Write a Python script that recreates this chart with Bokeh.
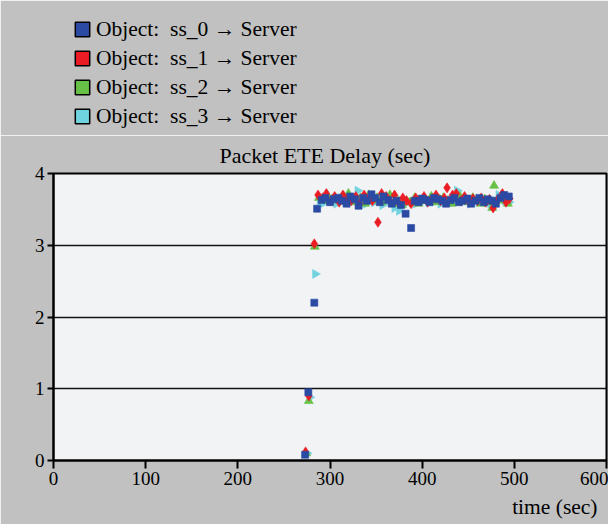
import numpy as np
from bokeh.plotting import figure
from bokeh.layouts import column
from bokeh.models import Legend, LegendItem, Title, FixedTicker, ColumnDataSource, Range1d
from bokeh.embed import file_html
from bokeh.resources import INLINE

series_names = ["Object:\u00a0 ss_0 \u2192 Server", "Object:\u00a0 ss_1 \u2192 Server",
                "Object:\u00a0 ss_2 \u2192 Server", "Object:\u00a0 ss_3 \u2192 Server"]
colors = ["#2b4aa3", "#ec1c24", "#66c146", "#6fd3e0"]

t0 = [273, 276.5, 283, 286, 291, 295, 300, 304, 309, 313, 318, 322, 327, 331, 336, 340, 345, 349, 354, 358,
      363, 367, 372, 377, 382, 388, 392, 396, 400, 404, 408, 413, 417, 422, 426, 431, 435, 440, 444, 449,
      453, 458, 462, 467, 471, 476, 480, 485, 489, 494]
v0 = [0.08, 0.95, 2.2, 3.51, 3.63, 3.66, 3.60, 3.64, 3.66, 3.62, 3.58, 3.68, 3.64, 3.55, 3.66, 3.62, 3.71, 3.66,
      3.60, 3.68, 3.63, 3.58, 3.62, 3.56, 3.44, 3.24, 3.62, 3.60, 3.65, 3.63, 3.60, 3.66, 3.64, 3.62, 3.58, 3.63,
      3.66, 3.60, 3.62, 3.65, 3.58, 3.62, 3.66, 3.60, 3.64, 3.62, 3.58, 3.66, 3.70, 3.68]

t1 = [273.5, 277, 283, 287, 292, 296, 301, 305, 310, 314, 319, 323, 328, 332, 337, 341, 346, 352, 356, 361,
      365, 370, 374, 379, 383, 388, 393, 397, 402, 406, 411, 415, 420, 424, 427, 433, 437, 442, 446, 451,
      455, 460, 464, 469, 473, 477, 482, 487, 491, 495]
v1 = [0.12, 0.9, 3.02, 3.70, 3.66, 3.72, 3.62, 3.68, 3.60, 3.70, 3.65, 3.62, 3.68, 3.58, 3.70, 3.64, 3.62, 3.32,
      3.72, 3.68, 3.62, 3.70, 3.60, 3.66, 3.62, 3.58, 3.66, 3.63, 3.68, 3.60, 3.65, 3.70, 3.62, 3.66, 3.80, 3.70,
      3.72, 3.62, 3.68, 3.60, 3.65, 3.62, 3.66, 3.60, 3.64, 3.52, 3.64, 3.72, 3.60, 3.65]

t2 = [274, 277, 283.5, 288, 293, 297, 302, 306, 311, 315, 320, 324, 329, 333, 338, 342, 347, 351, 356, 360,
      365, 369, 374, 378, 383, 387, 392, 396, 401, 405, 410, 414, 419, 423, 428, 432, 437, 441, 446, 450,
      455, 459, 464, 468, 473, 476, 478, 483, 488, 493]
v2 = [0.1, 0.83, 2.98, 3.66, 3.62, 3.70, 3.64, 3.66, 3.62, 3.68, 3.72, 3.60, 3.64, 3.66, 3.58, 3.70, 3.62, 3.66,
      3.60, 3.64, 3.70, 3.58, 3.62, 3.56, 3.62, 3.60, 3.66, 3.58, 3.64, 3.62, 3.68, 3.60, 3.64, 3.66, 3.62, 3.58,
      3.64, 3.68, 3.62, 3.60, 3.66, 3.62, 3.58, 3.64, 3.60, 3.52, 3.83, 3.62, 3.66, 3.58]

t3 = [275, 278, 284, 289, 294, 298, 303, 307, 312, 316, 321, 325, 330, 334, 339, 343, 348, 352, 357, 361,
      366, 370, 375, 379, 384, 389, 393, 398, 402, 407, 411, 416, 420, 425, 429, 434, 438, 443, 447, 452,
      456, 461, 465, 470, 474, 479, 483, 486, 490, 494]
v3 = [0.1, 0.88, 2.6, 3.56, 3.60, 3.64, 3.62, 3.58, 3.66, 3.62, 3.60, 3.64, 3.76, 3.62, 3.58, 3.66, 3.60, 3.64,
      3.56, 3.62, 3.60, 3.52, 3.48, 3.56, 3.62, 3.60, 3.58, 3.64, 3.62, 3.60, 3.66, 3.62, 3.58, 3.64, 3.62, 3.60,
      3.76, 3.62, 3.64, 3.58, 3.62, 3.60, 3.64, 3.60, 3.58, 3.62, 3.70, 3.66, 3.62, 3.60]

times = [t0, t1, t2, t3]
delays = [v0, v1, v2, v3]

x_ticks = [0, 100, 200, 300, 400, 500, 600]
y_ticks = [0, 1, 2, 3, 4]

SERIF = "Liberation Serif"
GRAY = "#c1c1c1"

# ---------- legend strip (top) ----------
lg = figure(width=608, height=135, output_backend="svg", toolbar_location=None,
            x_range=Range1d(0, 1), y_range=Range1d(0, 1),
            min_border=0, min_border_left=0, min_border_right=0, min_border_top=3, min_border_bottom=3)
lg.axis.visible = False
lg.grid.visible = False
lg.outline_line_color = GRAY
lg.outline_line_width = 4
lg.background_fill_color = GRAY
lg.border_fill_color = GRAY
lg.title = None

items = []
for name, c, tt, vv in zip(series_names, colors, times, delays):
    # legend key only: its single point lies outside this strip's 0..1 range, so only the key shows
    r = lg.quad(left=tt[:1], right=tt[:1], top=vv[:1], bottom=vv[:1],
                fill_color=c, line_color="black", line_width=1.5)
    items.append(LegendItem(label=name, renderers=[r]))

legend = Legend(items=items, location=(20, 3), padding=0, spacing=3, margin=0,
                glyph_width=18, glyph_height=18, label_height=26, label_standoff=5,
                label_text_font=SERIF, label_text_font_size="21.5px", label_text_color="black",
                border_line_color=None, background_fill_alpha=0)
lg.add_layout(legend, "center")

# ---------- main plot ----------
p = figure(width=608, height=389, output_backend="svg", toolbar_location=None,
           x_range=Range1d(0, 600), y_range=Range1d(0, 4),
           min_border_left=53, min_border_right=2, min_border_top=38, min_border_bottom=64)
p.border_fill_color = GRAY
p.background_fill_color = "#f1f3f5"
p.outline_line_color = "black"
p.outline_line_width = 2
p.title = None

for ax in (p.xaxis[0], p.yaxis[0]):
    ax.axis_line_color = "black"
    ax.axis_line_width = 2
    ax.major_tick_line_color = "black"
    ax.major_tick_line_width = 2
    ax.minor_tick_line_color = None
    ax.major_tick_in = 0
    ax.major_label_text_font = SERIF
    ax.major_label_text_font_size = "19px"
    ax.major_label_text_color = "black"

p.xaxis.ticker = FixedTicker(ticks=x_ticks)
p.yaxis.ticker = FixedTicker(ticks=y_ticks)
p.xaxis.major_tick_out = 8
p.yaxis.major_tick_out = 6
p.xaxis.major_label_standoff = 3
p.yaxis.major_label_standoff = 3

p.xgrid.grid_line_color = None
p.ygrid.grid_line_color = "#111111"
p.ygrid.grid_line_width = 1.5

ttl = Title(text="Packet ETE Delay (sec)", align="left", offset=166, text_font=SERIF,
            text_font_size="22px", text_font_style="normal", text_color="black", standoff=11)
p.add_layout(ttl, "above")

xt = Title(text="time (sec)", align="right", offset=9, text_font=SERIF,
           text_font_size="21.5px", text_font_style="normal", text_color="black", standoff=11)
p.add_layout(xt, "below")

markers = ["square", "diamond", "triangle", "triangle"]
angles = [0, 0, 0, -np.pi / 2]
sizes = [7, 10, 9, 9]
for i in [3, 2, 1, 0]:
    src = ColumnDataSource(dict(x=times[i], y=delays[i]))
    p.scatter("x", "y", source=src, marker=markers[i], angle=angles[i], size=sizes[i],
              fill_color=colors[i], line_color=colors[i], line_alpha=0.6)

layout = column(lg, p, spacing=0)
open("out.html", "w").write(file_html(layout, INLINE))
